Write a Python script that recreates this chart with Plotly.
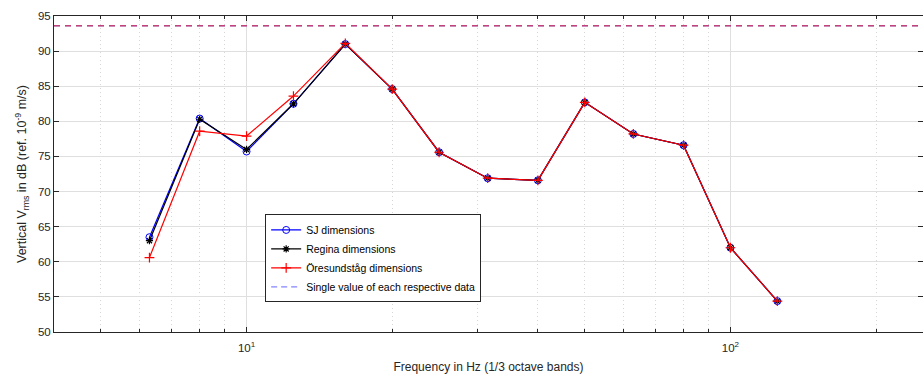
import plotly.graph_objects as go

freqs = [6.3, 8, 10, 12.5, 16, 20, 25, 31.5, 40, 50, 63, 80, 100, 125]
sj = [63.5, 80.4, 75.7, 82.5, 91.0, 84.6, 75.6, 71.9, 71.6, 82.7, 78.2, 76.6, 62.0, 54.4]
regina = [63.0, 80.3, 76.0, 82.5, 91.0, 84.6, 75.6, 71.9, 71.6, 82.7, 78.2, 76.6, 62.0, 54.4]
oresund = [60.6, 78.6, 77.9, 83.6, 91.1, 84.6, 75.6, 71.9, 71.6, 82.7, 78.2, 76.6, 62.0, 54.4]
single_values = [93.6, 93.6, 93.6]
x_span = [4, 250]
y_ticks = [50, 55, 60, 65, 70, 75, 80, 85, 90, 95]
x_major = [10, 100]
x_major_text = ["10<sup>1</sup>", "10<sup>2</sup>"]
x_minor = [4, 5, 6, 7, 8, 9, 20, 30, 40, 50, 60, 70, 80, 90, 200]

font = "Liberation Sans, Arial, sans-serif"
fig = go.Figure()

dash_colors = ["rgba(80,80,255,0.5)", "rgba(0,0,0,0.05)", "rgba(200,50,100,0.85)"]
for v, c in zip(single_values, dash_colors):
    fig.add_trace(go.Scatter(x=x_span, y=[v, v], mode="lines",
                             line=dict(color=c, width=1.5, dash="6px,5px"),
                             showlegend=False, hoverinfo="skip"))

fig.add_trace(go.Scatter(x=freqs, y=sj, mode="lines+markers", name="SJ dimensions",
                         line=dict(color="#0000ff", width=1.2),
                         marker=dict(symbol="circle-open", size=7, color="#0000ff", line=dict(width=1))))
fig.add_trace(go.Scatter(x=freqs, y=regina, mode="lines+markers", name="Regina dimensions",
                         line=dict(color="#000000", width=1.2),
                         marker=dict(symbol="asterisk-open", size=6, color="#000000", line=dict(width=1.2))))
fig.add_trace(go.Scatter(x=freqs, y=oresund, mode="lines+markers", name="Öresundståg dimensions",
                         line=dict(color="#ff0000", width=1.2),
                         marker=dict(symbol="cross-thin-open", size=7, color="#ff0000", line=dict(width=1.2))))
fig.add_trace(go.Scatter(x=[None], y=[None], mode="lines", name="Single value of each respective data",
                         line=dict(color="rgba(90,90,255,0.75)", width=1.2, dash="6px,4px")))

fig.update_layout(
    width=923, height=374,
    margin=dict(l=54, r=0, t=16, b=42),
    paper_bgcolor="white", plot_bgcolor="white",
    font=dict(family=font, size=11, color="#262626"),
    legend=dict(x=0.243, y=0.372, xanchor="left", yanchor="top",
                bgcolor="white", bordercolor="#262626", borderwidth=1,
                font=dict(size=10.5, color="#000000"), tracegroupgap=0, itemwidth=30),
    showlegend=True,
)
fig.update_xaxes(type="log", range=[0.60206, 2.39794],
                 tickvals=x_major, ticktext=x_major_text,
                 ticks="inside", ticklen=5, tickcolor="#262626",
                 showgrid=True, gridcolor="#dfdfdf", gridwidth=1,
                 minor=dict(tickvals=x_minor, ticks="inside", ticklen=3, tickcolor="#262626",
                            showgrid=True, gridcolor="#d6d6d6", griddash="1px,3px", gridwidth=1),
                 showline=True, linecolor="#262626", linewidth=1, mirror="ticks",
                 zeroline=False, ticklabelstandoff=5,
                 title=dict(text="Frequency in Hz (1/3 octave bands)", font=dict(size=12), standoff=10),
                 tickfont=dict(size=11.5))
fig.update_yaxes(range=[50, 95], tickvals=y_ticks,
                 ticks="inside", ticklen=5, tickcolor="#262626",
                 showgrid=True, gridcolor="#dfdfdf", gridwidth=1,
                 showline=True, linecolor="#262626", linewidth=1, mirror="ticks",
                 zeroline=False,
                 title=dict(text="Vertical V<sub>rms</sub> in dB (ref. 10<sup>-9</sup> m/s)",
                            font=dict(size=12.5), standoff=8),
                 tickfont=dict(size=11.5))

fig.write_html("out.html")
